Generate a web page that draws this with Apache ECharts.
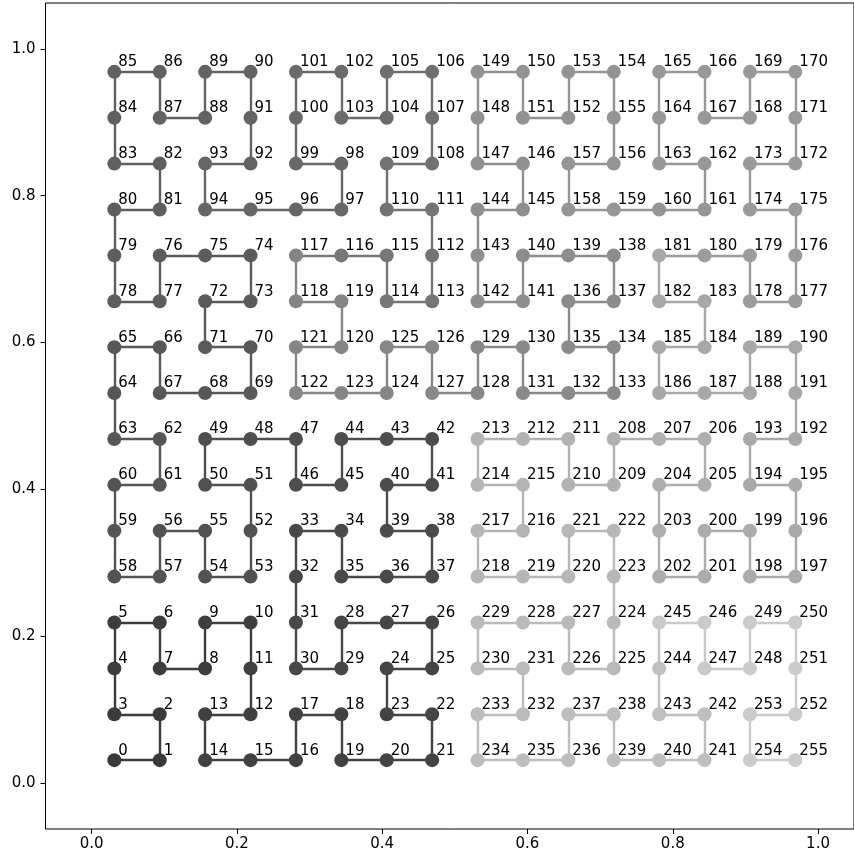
<!DOCTYPE html>
<html>
<head>
<meta charset="utf-8">
<script src="https://cdn.jsdelivr.net/npm/echarts@6/dist/echarts.min.js"></script>
<style>
  html, body { margin: 0; padding: 0; background: #fff; }
  #chart { width: 854px; height: 857px; }
</style>
</head>
<body>
<div id="chart"></div>
<script>
// Centres of the 16 grid columns / rows (data units)
const gridCenters = [0.03125, 0.09375, 0.15625, 0.21875, 0.28125, 0.34375, 0.40625, 0.46875,
                     0.53125, 0.59375, 0.65625, 0.71875, 0.78125, 0.84375, 0.90625, 0.96875];

// Column index of each point 0..255 along the curve
const pointCol = [
  0,1,1,0,0,0,1,1,2,2,3,3,3,2,2,3,
  4,4,5,5,6,7,7,6,6,7,7,6,5,5,4,4,
  4,4,5,5,6,7,7,6,6,7,7,6,5,5,4,4,
  3,2,2,3,3,3,2,2,1,1,0,0,0,1,1,0,
  0,0,1,1,2,3,3,2,2,3,3,2,1,1,0,0,
  0,1,1,0,0,0,1,1,2,2,3,3,3,2,2,3,
  4,5,5,4,4,4,5,5,6,6,7,7,7,6,6,7,
  7,7,6,6,5,4,4,5,5,4,4,5,6,6,7,7,
  8,8,9,9,10,11,11,10,10,11,11,10,9,9,8,8,
  8,9,9,8,8,8,9,9,10,10,11,11,11,10,10,11,
  12,13,13,12,12,12,13,13,14,14,15,15,15,14,14,15,
  15,15,14,14,13,12,12,13,13,12,12,13,14,14,15,15,
  15,14,14,15,15,15,14,14,13,13,12,12,12,13,13,12,
  11,11,10,10,9,8,8,9,9,8,8,9,10,10,11,11,
  11,11,10,10,9,8,8,9,9,8,8,9,10,10,11,11,
  12,13,13,12,12,12,13,13,14,14,15,15,15,14,14,15
];

// Row index of each point 0..255 along the curve
const pointRow = [
  0,0,1,1,2,3,3,2,2,3,3,2,1,1,0,0,
  0,1,1,0,0,0,1,1,2,2,3,3,3,2,2,3,
  4,5,5,4,4,4,5,5,6,6,7,7,7,6,6,7,
  7,7,6,6,5,4,4,5,5,4,4,5,6,6,7,7,
  8,9,9,8,8,8,9,9,10,10,11,11,11,10,10,11,
  12,12,13,13,14,15,15,14,14,15,15,14,13,13,12,12,
  12,12,13,13,14,15,15,14,14,15,15,14,13,13,12,12,
  11,10,10,11,11,11,10,10,9,9,8,8,8,9,9,8,
  8,9,9,8,8,8,9,9,10,10,11,11,11,10,10,11,
  12,12,13,13,14,15,15,14,14,15,15,14,13,13,12,12,
  12,12,13,13,14,15,15,14,14,15,15,14,13,13,12,12,
  11,10,10,11,11,11,10,10,9,9,8,8,8,9,9,8,
  7,7,6,6,5,4,4,5,5,4,4,5,6,6,7,7,
  7,6,6,7,7,7,6,6,5,5,4,4,4,5,5,4,
  3,2,2,3,3,3,2,2,1,1,0,0,0,1,1,0,
  0,0,1,1,2,3,3,2,2,3,3,2,1,1,0,0
];

// Axis tick labels
const xTicks = [0.0, 0.2, 0.4, 0.6, 0.8, 1.0];
const yTicks = [0.0, 0.2, 0.4, 0.6, 0.8, 1.0];

// Grey level anchors along the curve (style): [index, level]
const greyAnchors = [[0,58],[32,72],[64,86],[96,102],[116,120],[117,132],[128,136],[160,150],[180,156],[181,168],[192,168],[224,185],[244,192],[245,202],[256,204]];
function greyAt(i) {
  for (let k = 0; k < greyAnchors.length - 1; k++) {
    const a = greyAnchors[k], b = greyAnchors[k + 1];
    if (i >= a[0] && i <= b[0]) {
      const t = (i - a[0]) / (b[0] - a[0]);
      const v = Math.round(a[1] + t * (b[1] - a[1]));
      return 'rgb(' + v + ',' + v + ',' + v + ')';
    }
  }
  return 'rgb(204,204,204)';
}

const points = pointCol.map((c, i) => [gridCenters[c], gridCenters[pointRow[i]], i]);
const segments = [];
for (let i = 0; i < points.length - 1; i++) {
  segments.push({
    coords: [[points[i][0], points[i][1]], [points[i + 1][0], points[i + 1][1]]],
    lineStyle: { color: greyAt(i) }
  });
}

const chart = echarts.init(document.getElementById('chart'), null, { renderer: 'canvas' });
const font = 'DejaVu Sans';
chart.setOption({
  animation: false,
  backgroundColor: '#fff',
  grid: { left: 45.5, top: 3, right: 0, height: 826, show: true, borderColor: '#000', borderWidth: 1, backgroundColor: 'transparent' },
  xAxis: {
    type: 'value', min: -0.0635, max: 1.0495,
    axisLine: { show: false, onZero: false },
    splitLine: { show: false },
    axisTick: { show: true, inside: false, length: 5, customValues: xTicks, lineStyle: { color: '#000', width: 1 } },
    axisLabel: { customValues: xTicks, margin: 8, color: '#000', fontFamily: font, fontSize: 15,
                 formatter: v => Number(v).toFixed(1) }
  },
  yAxis: {
    type: 'value', min: -0.0625, max: 1.0625,
    axisLine: { show: false, onZero: false },
    splitLine: { show: false },
    axisTick: { show: true, inside: false, length: 5, customValues: yTicks, lineStyle: { color: '#000', width: 1 } },
    axisLabel: { customValues: yTicks, margin: 10, color: '#000', fontFamily: font, fontSize: 15,
                 formatter: v => Number(v).toFixed(1) }
  },
  series: [
    {
      type: 'lines',
      coordinateSystem: 'cartesian2d',
      polyline: false,
      silent: true,
      z: 2,
      lineStyle: { width: 2.4, opacity: 1 },
      data: segments
    },
    {
      type: 'scatter',
      z: 3,
      symbol: 'circle',
      symbolSize: 14,
      data: points,
      itemStyle: { color: p => greyAt(p.dataIndex), opacity: 1 },
      label: {
        show: true,
        position: [11, 5],
        align: 'left',
        verticalAlign: 'bottom',
        color: '#000',
        fontFamily: font,
        fontSize: 15,
        formatter: p => String(p.data[2])
      },
      emphasis: { disabled: true }
    }
  ]
});
</script>
</body>
</html>
